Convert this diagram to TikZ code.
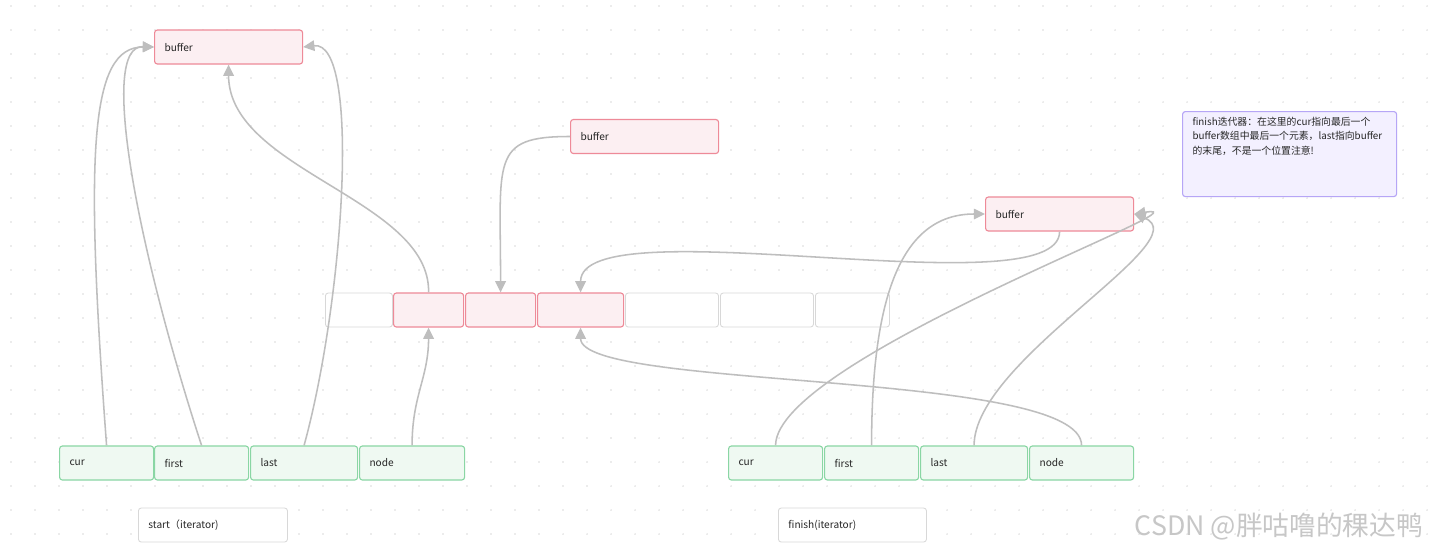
\documentclass[tikz,border=0pt]{standalone}
\usepackage{fontspec}
\setmainfont{Noto Sans CJK SC}
\usepackage{xcolor}
\usetikzlibrary{arrows.meta}
\definecolor{bufline}{RGB}{238,138,152}
\definecolor{buffill}{RGB}{252,239,242}
\definecolor{fldline}{RGB}{138,214,164}
\definecolor{fldfill}{RGB}{239,249,242}
\definecolor{cellline}{RGB}{216,216,216}
\definecolor{noteline}{RGB}{182,166,246}
\definecolor{notefill}{RGB}{243,240,255}
\definecolor{linkgray}{RGB}{190,190,190}
\definecolor{dotgray}{RGB}{218,218,218}

\begin{document}
\begin{tikzpicture}[
  x=0.025cm, y=-0.025cm,
  >={Triangle[length=8pt, width=7.5pt]},
  every node/.style={font=\fontsize{7.2}{9}\selectfont, text=black!85},
  buf/.style={draw=bufline, fill=buffill, rounded corners=2pt, line width=0.8pt,
              text width=3.2cm, inner xsep=0.25cm, minimum height=0.85cm, anchor=west},
  cell/.style={draw=cellline, fill=white, rounded corners=2pt, line width=0.6pt,
               inner sep=0pt, minimum height=0.85cm, anchor=west},
  bcell/.style={cell, draw=bufline, fill=buffill, line width=0.8pt},
  fld/.style={draw=fldline, fill=fldfill, rounded corners=2pt, line width=0.8pt,
              text width=#1, inner xsep=0.25cm, minimum height=0.85cm, anchor=west},
  lbl/.style={draw=cellline, fill=white, rounded corners=2pt, line width=0.6pt,
              text width=3.2cm, inner xsep=0.25cm, minimum height=0.85cm, anchor=west},
  note/.style={draw=noteline, fill=notefill, rounded corners=2pt, line width=0.8pt,
               inner xsep=0.25cm, inner ysep=0.15cm, anchor=north west},
  link/.style={->, draw=linkgray, line width=1.1pt}
]
\useasboundingbox (0,0) rectangle (1431,555);
\fill[white] (0,0) rectangle (1431,555);
% dotted canvas
\foreach \gx in {11,35,...,1427}{
  \foreach \gy in {6,30,...,550}{
    \fill[dotgray] (\gx,\gy) circle (0.55pt);
  }
}
% buffers
\node[buf] (buf1) at (154,47) {buffer};
\node[buf] (buf2) at (570,136.5) {buffer};
\node[buf] (buf3) at (985,214) {buffer};
% map array
\node[cell,  minimum width=1.675cm] (c1) at (325,310) {};
\node[bcell, minimum width=1.75cm]  (c2) at (393,310) {};
\node[bcell, minimum width=1.75cm]  (c3) at (465,310) {};
\node[bcell, minimum width=2.15cm]  (c4) at (537,310) {};
\node[cell,  minimum width=2.325cm] (c5) at (625,310) {};
\node[cell,  minimum width=2.325cm] (c6) at (720,310) {};
\node[cell,  minimum width=1.85cm]  (c7) at (815,310) {};
% start iterator
\node[fld=1.85cm]  (cur1)   at (59,463)  {cur};
\node[fld=1.85cm]  (first1) at (154,463) {first};
\node[fld=2.175cm] (last1)  at (250,463) {last};
\node[fld=2.125cm] (node1)  at (359,463) {node};
\node[lbl, text width=3.225cm] (start) at (138,525) {start（iterator)};
% finish iterator
\node[fld=1.85cm]  (cur2)   at (728,463)  {cur};
\node[fld=1.85cm]  (first2) at (824,463)  {first};
\node[fld=2.175cm] (last2)  at (920,463)  {last};
\node[fld=2.1cm]   (node2)  at (1029,463) {node};
\node[lbl] (finish) at (778,525) {finish(iterator)};
% remark
\node[note] (tip) at (1182,111) {\parbox[c][1.825cm][t]{4.85cm}{\fontsize{7}{10}\selectfont
  finish迭代器：在这里的cur指向最后一个\\
  buffer数组中最后一个元素，last指向buffer\\
  的末尾，不是一个位置注意!}};
\node[anchor=east, font=\fontsize{19}{22}\selectfont, text=black!22] (mark) at (1428,527)
  {CSDN @胖咕噜的稞达鸭};
% links of start
\draw[link] (cur1.north) .. controls +(-22,-296) and +(-64,0) .. (buf1.west);
\draw[link] (first1.north) .. controls +(-64,-196) and +(-56,-2) .. (buf1.west);
\draw[link] (last1.north) .. controls +(40,-146) and +(58,-7) .. (buf1.east);
\draw[link] (node1.north) .. controls +(0,-50) and +(0,50) .. (c2.south);
\draw[link] (c2.north) .. controls +(2,-93) and +(0,106) .. (buf1.south);
\draw[link] (buf2.west) .. controls +(-80,0) and +(0,-133) .. (c3.north);
% links of finish
\draw[link] (buf3.south) .. controls +(0,79) and +(0,-88) .. (c4.north);
\draw[link] (cur2.north) .. controls +(0,-86) and +(87,-14) .. (buf3.east);
\draw[link] (first2.north) .. controls +(0,-146) and +(-85,0) .. (buf3.west);
\draw[link] (last2.north) .. controls +(0,-86) and +(67,26) .. (buf3.east);
\draw[link] (node2.north) .. controls +(0,-76) and +(0,63) .. (c4.south);
\end{tikzpicture}
\end{document}
